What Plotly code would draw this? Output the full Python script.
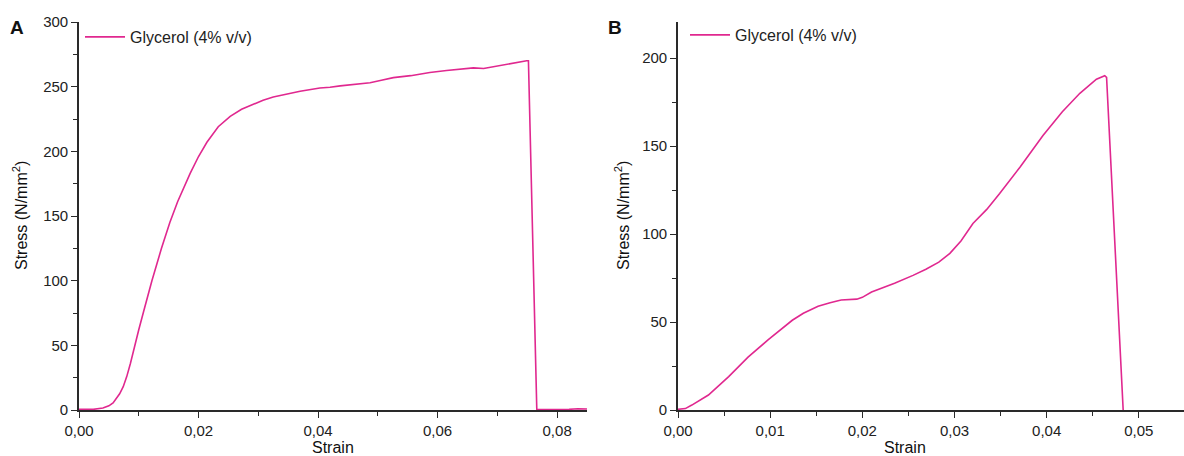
import plotly.graph_objects as go

# Tensile test, film with glycerol (4% v/v) - panel A
strain_a = [0, 0.001, 0.0024, 0.004, 0.0050, 0.0057, 0.0062, 0.0068, 0.0074, 0.0080,
            0.0086, 0.0091, 0.0100, 0.0108, 0.0122, 0.0138, 0.0152, 0.0165, 0.0175, 0.0186,
            0.0200, 0.0214, 0.0233, 0.0253, 0.0272, 0.0292, 0.0308, 0.0325, 0.0348, 0.0370,
            0.0403, 0.0420, 0.0437, 0.0460, 0.0487, 0.0506, 0.0526, 0.0555, 0.0587, 0.0615,
            0.0643, 0.0660, 0.0677, 0.0694, 0.0710, 0.0733, 0.0749, 0.0752, 0.0766, 0.0780,
            0.0800, 0.0820, 0.0835, 0.0843, 0.0850]
stress_a = [0.5, 0.6, 0.5, 1.5, 3.2, 5.5, 8.5, 12.5, 18, 26,
            36, 46, 62, 76, 100, 125, 145, 161, 172, 183,
            196, 207, 219, 227, 232.5, 236.5, 239.5, 242, 244.5, 246.5,
            249, 249.5, 250.6, 251.5, 253, 255, 257, 258.5, 261, 262.5,
            264, 264.5, 264, 265.5, 267, 268.6, 270, 270, 0.5, 0.3,
            0.2, 0.5, 1.0, 1.2, 0.8]

# Panel B
strain_b = [0, 0.0008, 0.0015, 0.0033, 0.0055, 0.0076, 0.0098, 0.0112, 0.0124, 0.0136,
            0.0152, 0.0165, 0.0177, 0.0194, 0.0200, 0.0210, 0.0235, 0.0255, 0.0269, 0.0283,
            0.0295, 0.0307, 0.0320, 0.0335, 0.0349, 0.0371, 0.0396, 0.0417, 0.0436, 0.0454,
            0.0463, 0.0465, 0.0483]
stress_b = [0.4, 0.8, 2.8, 8.5, 19, 30, 40, 46, 51, 55,
            59, 61, 62.5, 63, 64, 67, 72, 76.5, 80, 84,
            89, 96, 106, 114, 123, 138, 156, 169.5, 180, 188,
            190, 189, 0]

series_name = "Glycerol (4% v/v)"
line_color = "#e0288f"
axis_color = "#2a2a2a"
font_family = "Liberation Sans, Arial, sans-serif"

W, H = 1184, 456

fig = go.Figure()
fig.add_trace(go.Scatter(x=strain_a, y=stress_a, mode="lines", name=series_name,
                         line=dict(color=line_color, width=1.6), showlegend=True,
                         legendgroup="a", xaxis="x", yaxis="y", legend="legend"))
fig.add_trace(go.Scatter(x=strain_b, y=stress_b, mode="lines", name=series_name,
                         line=dict(color=line_color, width=1.6), showlegend=True,
                         legendgroup="b", xaxis="x2", yaxis="y2", legend="legend2"))

def axis_style(**kw):
    base = dict(showline=True, linecolor=axis_color, linewidth=1.6, automargin=False,
                ticks="outside", ticklen=6, tickwidth=1.4, tickcolor=axis_color,
                showgrid=False, zeroline=False, mirror=False,
                tickfont=dict(size=15, color="#222222", family=font_family),
                minor=dict(ticks="outside", ticklen=4, tickwidth=1.2, tickcolor=axis_color,
                           showgrid=False))
    base.update(kw)
    return base

ydom = [(H - 410) / H, (H - 22) / H]
xa_dom = [79 / W, 587 / W]
xb_dom = [678 / W, 1.0]

legend_common = dict(xanchor="left", yanchor="middle", bgcolor="rgba(0,0,0,0)",
                     itemwidth=40, borderwidth=0,
                     font=dict(size=16, color="#222222", family=font_family))

fig.update_layout(
    width=W, height=H,
    margin=dict(l=0, r=0, t=0, b=0, autoexpand=False),
    paper_bgcolor="white", plot_bgcolor="white",
    separators=",.",
    showlegend=True,
    font=dict(family=font_family, color="#222222"),
    xaxis=axis_style(domain=xa_dom, range=[0, 0.085], tickvals=[0, 0.02, 0.04, 0.06, 0.08],
                     tickformat=".2f", anchor="y", minor_dtick=0.01),
    yaxis=axis_style(domain=ydom, range=[0, 300], dtick=50, anchor="x", minor_dtick=25),
    xaxis2=axis_style(domain=xb_dom, range=[0, 0.0549], dtick=0.01, tickformat=".2f",
                      anchor="y2", minor_dtick=0.005),
    yaxis2=axis_style(domain=ydom, range=[0, 220.5], dtick=50, anchor="x2", minor_dtick=25),
    legend=dict(x=80 / W, y=(H - 37) / H, **legend_common),
    legend2=dict(x=685 / W, y=(H - 35) / H, **legend_common),
)

annotations = [
    dict(text="<b>A</b>", x=17 / W, y=(H - 28) / H),
    dict(text="<b>B</b>", x=615 / W, y=(H - 27) / H),
    dict(text="Strain", x=333 / W, y=(H - 447) / H, font_size=16),
    dict(text="Strain", x=905 / W, y=(H - 447) / H, font_size=16),
    dict(text="Stress (N/mm<sup>2</sup>)", x=20 / W, y=(H - 216) / H, textangle=-90,
         font_size=16),
    dict(text="Stress (N/mm<sup>2</sup>)", x=622 / W, y=(H - 216) / H, textangle=-90,
         font_size=16),
]
for a in annotations:
    size = a.pop("font_size", 19)
    fig.add_annotation(xref="paper", yref="paper", showarrow=False,
                       xanchor="center", yanchor="middle",
                       font=dict(size=size, color="#111111", family=font_family), **a)

fig.write_html("out.html")
